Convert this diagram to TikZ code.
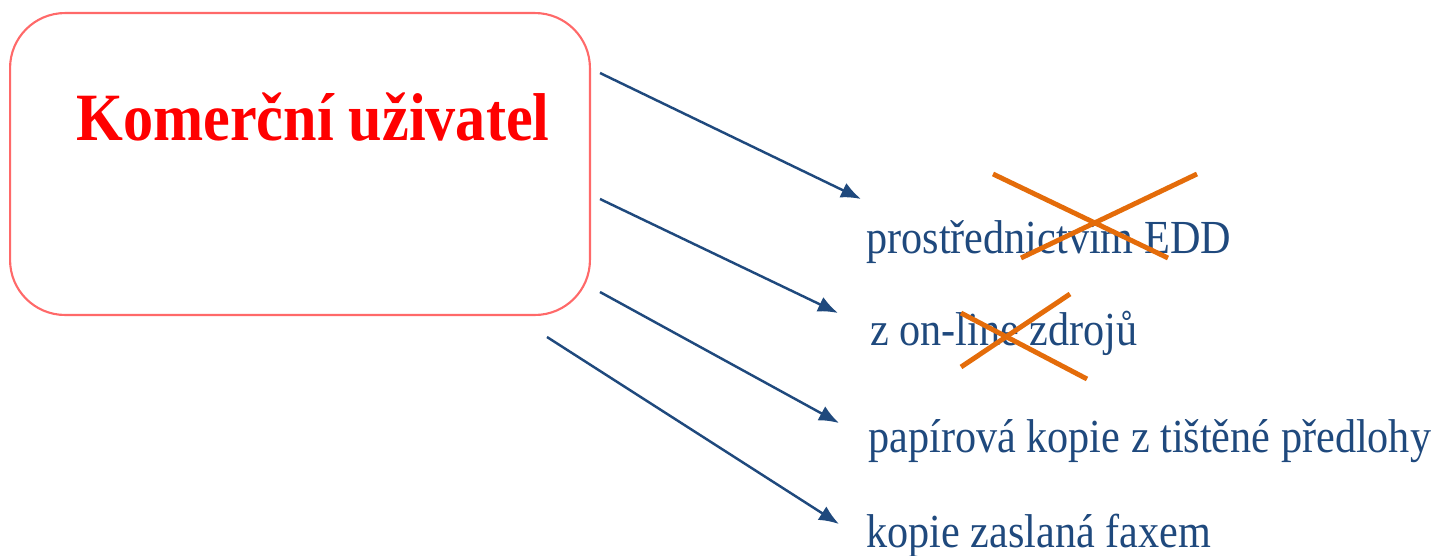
\documentclass[tikz,border=0pt]{standalone}
\usepackage{fontspec}
\setmainfont{Liberation Serif}
\usetikzlibrary{arrows.meta}
\definecolor{navy}{RGB}{31,73,125}
\definecolor{crossorange}{RGB}{228,108,10}
\definecolor{boxred}{RGB}{255,105,105}
\newcommand{\squeezed}[1]{\scalebox{0.89}[1]{#1}}

\begin{document}
\begin{tikzpicture}[x=0.02cm, y=-0.02cm, >={Latex[length=4mm,width=3.2mm]},
  way/.style={text=navy, font=\fontsize{27}{30}\selectfont, anchor=base west, inner sep=0pt},
  link/.style={->, draw=navy, line width=1.4pt},
  strike/.style={draw=crossorange, line width=2.8pt}]

\useasboundingbox (0,0) rectangle (1437,555);

\node [draw=boxred, line width=1.2pt, rounded corners=1.1cm, minimum width=11.6cm, minimum height=6.04cm] at (300,164) (USER) {};
\node [text=red, font=\bfseries\fontsize{38.5}{40}\selectfont, anchor=base west, inner sep=0pt] at (76,140) (TITLE) {\squeezed{Komerční uživatel}};

\node [way] at (866,253) (EDD) {\squeezed{prostřednictvím EDD}};
\node [way] at (870,345) (ONLINE) {\squeezed{z on-line zdrojů}};
\node [way] at (868,452) (PAPER) {\squeezed{papírová kopie z tištěné předlohy}};
\node [way] at (866,547) (FAX) {\squeezed{kopie zaslaná faxem}};

%arrows
\coordinate (S1) at (600,73);   \coordinate (T1) at (861,199);
\coordinate (S2) at (600,199);  \coordinate (T2) at (838,313);
\coordinate (S3) at (600,292);  \coordinate (T3) at (839,423);
\coordinate (S4) at (547,337);  \coordinate (T4) at (839,524);
\draw [link] (S1) -- (T1);
\draw [link] (S2) -- (T2);
\draw [link] (S3) -- (T3);
\draw [link] (S4) -- (T4);

%crossed out
\coordinate (X1a) at (993,174);  \coordinate (X1b) at (1168,258);
\coordinate (X1c) at (1197,174); \coordinate (X1d) at (1021,258);
\draw [strike] (X1a) -- (X1b);
\draw [strike] (X1c) -- (X1d);

\coordinate (X2a) at (961,313);  \coordinate (X2b) at (1087,379);
\coordinate (X2c) at (1070,294); \coordinate (X2d) at (961,367);
\draw [strike] (X2a) -- (X2b);
\draw [strike] (X2c) -- (X2d);

\end{tikzpicture}
\end{document}
